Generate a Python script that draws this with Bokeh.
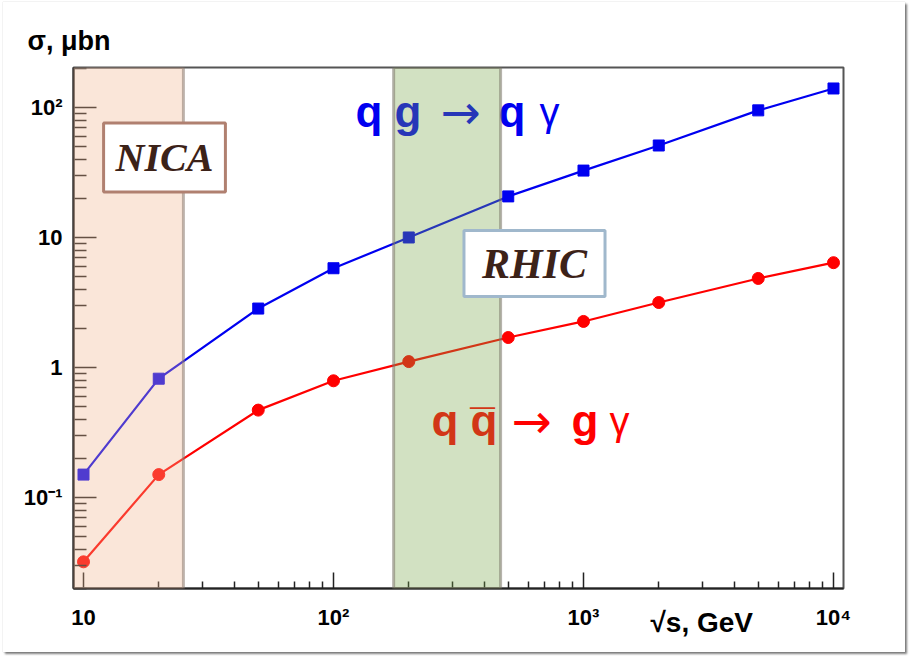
from bokeh.plotting import figure
from bokeh.models import Label, BoxAnnotation, FixedTicker, CustomJSTickFormatter, Title
from bokeh.embed import file_html
from bokeh.resources import INLINE

# ---- data ----
energy = [10, 20, 50, 100, 200, 500, 1000, 2000, 5000, 10000]          # sqrt(s), GeV
sigma_qg = [0.15, 0.82, 2.84, 5.8, 10.0, 20.7, 32.7, 51.0, 95.0, 140.0]  # q g -> q gamma, mub
sigma_qqbar = [0.032, 0.15, 0.47, 0.79, 1.11, 1.70, 2.26, 3.16, 4.84, 6.4]  # q qbar -> g gamma
nica_range = [9.12, 25.1]
rhic_range = [174.0, 466.0]
x_ticks = [10, 100, 1000, 10000]
x_tick_labels = ["10", "10²", "10³", "10⁴"]
y_ticks = [0.1, 1, 10, 100]
y_tick_labels = ["10⁻¹", "1", "10", "10²"]

BLUE = "#0000f0"
RED = "#ff0000"
FONT = "Liberation Sans"

p = figure(width=902, height=650, x_axis_type="log", y_axis_type="log",
           x_range=(9.12, 10965), y_range=(0.01995, 203),
           output_backend="svg", toolbar_location=None,
           min_border_left=70, min_border_right=62, min_border_top=65, min_border_bottom=64)
p.styles = {"margin": "2px 0px 0px 3px",
            "box-shadow": "0px 0px 1px rgba(0,0,0,0.25), 2px 2px 2px rgba(0,0,0,0.5)"}
p.xgrid.visible = False
p.ygrid.visible = False
p.outline_line_color = "#555555"
p.outline_line_width = 2
p.background_fill_color = "white"
p.border_fill_color = "white"

# y-axis title, top-left above the frame
p.title = Title(text="σ, μbn", align="left", offset=-46, standoff=24,
                text_font=FONT, text_font_size="27px", text_font_style="bold",
                text_color="black")

fmt_code = """
let best = -1, bd = 1e9;
for (let i = 0; i < vals.length; i++) {
  const d = Math.abs(Math.log10(vals[i]) - Math.log10(tick));
  if (d < bd) { bd = d; best = i; }
}
return bd < 1e-6 ? labs[best] : "";
"""

x_minor = [m * 10 ** e for e in range(0, 5) for m in range(2, 10)]
y_minor = [m * 10 ** e for e in range(-2, 3) for m in range(2, 10)]

p.xaxis.ticker = FixedTicker(ticks=x_ticks, minor_ticks=x_minor)
p.yaxis.ticker = FixedTicker(ticks=y_ticks, minor_ticks=y_minor)
p.xaxis.formatter = CustomJSTickFormatter(args=dict(vals=x_ticks, labs=x_tick_labels), code=fmt_code)
p.yaxis.formatter = CustomJSTickFormatter(args=dict(vals=y_ticks, labs=y_tick_labels), code=fmt_code)

for ax in (p.xaxis[0], p.yaxis[0]):
    ax.axis_line_color = "#222222"
    ax.axis_line_width = 2
    ax.major_tick_out = 0
    ax.minor_tick_out = 0
    ax.major_tick_line_color = "#222222"
    ax.minor_tick_line_color = "#222222"
    ax.major_tick_line_width = 1.5
    ax.minor_tick_line_width = 1.5
    ax.major_label_text_font = FONT
    ax.major_label_text_font_style = "bold"
    ax.major_label_text_font_size = "22px"
    ax.major_label_text_color = "black"

p.xaxis.major_tick_in = 16
p.xaxis.minor_tick_in = 7
p.xaxis.major_label_standoff = 16
p.yaxis.major_tick_in = 23
p.yaxis.minor_tick_in = 13
p.yaxis.major_label_standoff = 11

# x-axis title, on the tick-label row between 10^3 and 10^4
p.add_layout(Title(text="√s, GeV", align="left", offset=577, vertical_align="top",
                   standoff=-52, text_font=FONT, text_font_size="28px",
                   text_font_style="bold", text_color="black"), "below")

# ---- curves ----
p.line(energy, sigma_qg, line_color=BLUE, line_width=2.2)
p.scatter(energy, sigma_qg, marker="square", size=11, color=BLUE)
p.line(energy, sigma_qqbar, line_color=RED, line_width=2.2)
p.scatter(energy, sigma_qqbar, marker="circle", size=12, color=RED)


def lab(text, x, y, color="black", size="22px", style="normal", font=FONT, align="left",
        baseline="alphabetic", **kw):
    l = Label(x=x, y=y, x_units="screen", y_units="screen", text=text,
              text_color=color, text_font_size=size, text_font_style=style,
              text_font=font, text_align=align, text_baseline=baseline, **kw)
    p.add_layout(l)
    return l

# process labels (frame-relative screen coordinates)
lab("q g", 282, 477, color=BLUE, size="44px", style="bold")
lab("→", 367, 477, color=BLUE, size="48px", font="DejaVu Sans")
lab("q", 425, 477, color=BLUE, size="44px", style="bold")
lab("γ", 466, 477, color=BLUE, size="40px")

lab("q q\u0305", 358, 168, color=RED, size="44px", style="bold")
lab("→", 438, 168, color=RED, size="48px", font="DejaVu Sans")
lab("g", 498, 168, color=RED, size="44px", style="bold")
lab("γ", 536, 168, color=RED, size="40px")

# energy ranges of the colliders (semi-transparent overlays)
p.add_layout(BoxAnnotation(left=nica_range[0], right=nica_range[1],
                           fill_color="#f0b48c", fill_alpha=0.33,
                           line_color="#8a7a70", line_alpha=0.55, line_width=3))
p.add_layout(BoxAnnotation(left=rhic_range[0], right=rhic_range[1],
                           fill_color="#76a346", fill_alpha=0.33,
                           line_color="#7a7568", line_alpha=0.55, line_width=3))

lab("NICA", 91, 431, color="#3c2218", size="40px", style="bold italic",
    font="Liberation Serif", align="center", baseline="middle",
    background_fill_color="white", border_line_color="#b08070", border_line_width=3,
    padding=12)
lab("RHIC", 461, 325, color="#3c2218", size="42px", style="bold italic",
    font="Liberation Serif", align="center", baseline="middle",
    background_fill_color="white", border_line_color="#a0b8cc", border_line_width=3,
    padding=(18, 10))

open("out.html", "w").write(file_html(p, INLINE))
